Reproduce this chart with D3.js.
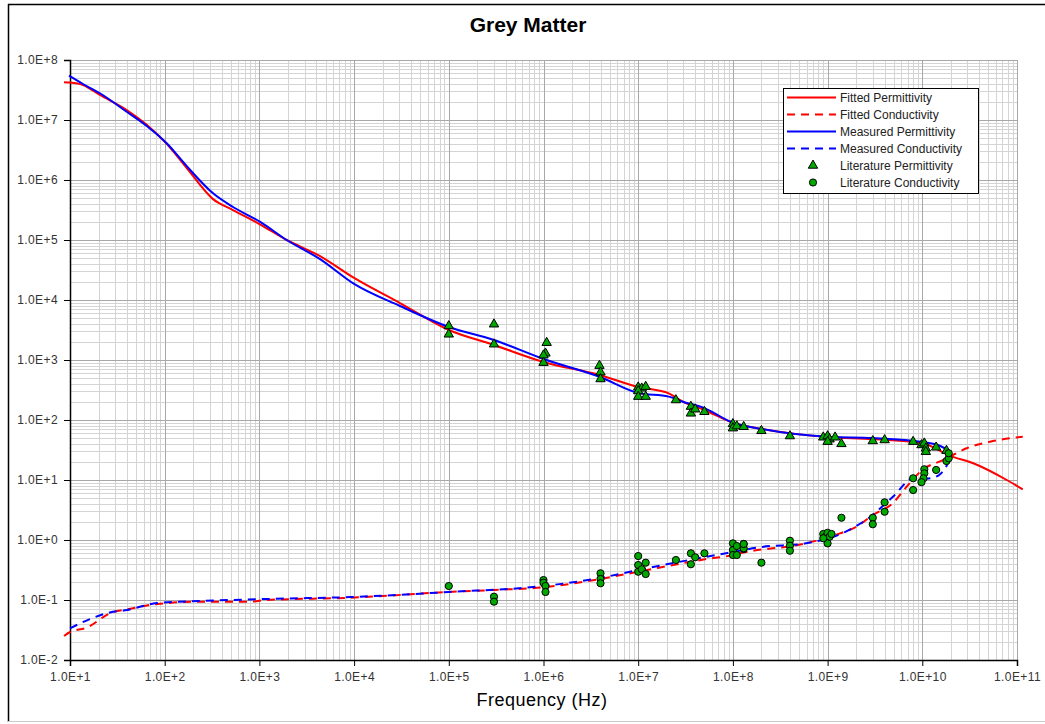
<!DOCTYPE html>
<html>
<head>
<meta charset="utf-8">
<script src="https://cdn.jsdelivr.net/npm/d3@7"></script>
<style>
  body { margin: 0; background: #fff; }
  text { font-family: "Liberation Sans", Arial, sans-serif; }
</style>
</head>
<body>
<svg id="chart" width="1045" height="724"></svg>
<script>
// ---- data ----
const xTickExps = [1, 2, 3, 4, 5, 6, 7, 8, 9, 10, 11];
const yTickExps = [-2, -1, 0, 1, 2, 3, 4, 5, 6, 7, 8];
const xTickLabels = xTickExps.map((e) => `1.0E+${e}`);
const yTickLabels = yTickExps.map((e) => (e < 0 ? `1.0E-${-e}` : `1.0E+${e}`));

// fitted permittivity (red solid)
const fitPermFreq = [8.65, 10, 13.7, 20.7, 39.7, 64.6, 105, 171, 324, 526, 1010, 1940, 4370, 1e4, 3.05e4, 1e5, 3e5, 1e6, 3.9e6, 1e7, 2.1e7, 2.96e7, 5e7, 1e8, 2e8, 1e9, 3e9, 1e10, 2e10, 3.45e10, 7.8e10, 1.15e11];
const fitPermVal = [4.25e7, 4.2e7, 3.83e7, 2.61e7, 1.47e7, 8.3e6, 4.0e6, 1.58e6, 4.8e5, 3.16e5, 1.83e5, 1e5, 5.4e4, 2.33e4, 8.9e3, 3160, 1780, 927, 562, 355, 278, 202, 147, 90, 71, 52, 48, 41, 25, 19, 10, 7.0];

// fitted conductivity (red dashed)
const fitCondFreq = [8.65, 10, 15, 26.4, 46.2, 83, 236, 794, 1200, 9060, 1e5, 3e5, 1e6, 3.95e6, 1e7, 5.07e7, 1e8, 1.18e8, 5.9e8, 1.35e9, 2.03e9, 3e9, 4.9e9, 6.84e9, 1e10, 1.65e10, 2.1e10, 2.93e10, 5.2e10, 1.15e11];
const fitCondVal = [0.0251, 0.0293, 0.0345, 0.06, 0.0727, 0.0858, 0.0937, 0.0937, 0.1, 0.109, 0.136, 0.147, 0.163, 0.224, 0.296, 0.477, 0.562, 0.6, 0.88, 1.29, 1.67, 2.61, 4.14, 7.73, 14.7, 21.5, 26.1, 33.8, 43.5, 52.7];

// measured permittivity (blue solid)
const measPermFreq = [9.76, 13.7, 20.7, 39.7, 64.6, 105, 171, 324, 526, 1010, 1940, 4370, 1e4, 3.05e4, 1e5, 3e5, 1e6, 3.9e6, 1e7, 2.1e7, 2.96e7, 5e7, 1e8, 2e8, 1e9, 3e9, 1e10, 1.55e10, 2e10];
const measPermVal = [5.47e7, 3.98e7, 2.79e7, 1.37e7, 7.94e6, 4.09e6, 1.7e6, 6e5, 3.55e5, 2.02e5, 1e5, 4.8e4, 1.85e4, 7.94e3, 3550, 2150, 1040, 525, 282, 245, 202, 158, 90, 71, 52.5, 50, 43, 36.9, 29.3];

// measured conductivity (blue dashed)
const measCondFreq = [10, 16.3, 26.4, 40, 83, 236, 1200, 9060, 1e5, 1e6, 3.95e6, 1e7, 5.07e7, 1e8, 2e8, 5.9e8, 1.54e9, 2.8e9, 4.9e9, 8.16e9, 1e10, 1.25e10, 1.55e10, 1.8e10, 2e10];
const measCondVal = [0.0337, 0.0482, 0.062, 0.068, 0.089, 0.096, 0.104, 0.112, 0.136, 0.171, 0.233, 0.316, 0.52, 0.63, 0.764, 0.88, 1.37, 2.42, 5.27, 10.8, 10.4, 10.8, 12.6, 17.1, 26.1];

// literature permittivity (triangles)
const litPermFreq = [1e5, 1e5, 3e5, 3e5, 1.08e6, 1.05e6, 1e6, 1e6, 3.9e6, 4e6, 4e6, 1e7, 1.09e7, 1.2e7, 1e7, 1e7, 1.2e7, 2.5e7, 3.6e7, 3.6e7, 4e7, 5e7, 1e8, 1e8, 1.1e8, 1.3e8, 2e8, 4e8, 9e8, 1e9, 1.05e9, 1.2e9, 1e9, 1.4e9, 3e9, 4e9, 8e9, 9.8e9, 1.05e10, 1.09e10, 1.09e10, 1.4e10, 1.8e10];
const litPermVal = [3690, 2680, 3940, 1830, 1940, 1290, 1200, 902, 804, 624, 482, 351, 337, 359, 304, 245, 245, 215, 167, 129, 151, 137, 86, 73, 79, 77, 66, 54, 51.5, 54, 47.7, 51.5, 43.5, 40, 44.7, 46.4, 43.5, 38.3, 40.9, 33.8, 29.6, 35, 30.8];

// literature conductivity (circles)
const litCondFreq = [1e5, 3e5, 3e5, 1e6, 1e6, 1.05e6, 1.05e6, 4e6, 4e6, 4e6, 1e7, 1e7, 1e7, 1.09e7, 1.2e7, 1.2e7, 2.5e7, 3.6e7, 3.6e7, 4e7, 5e7, 1e8, 1e8, 1e8, 1.1e8, 1.1e8, 1.3e8, 1.3e8, 1.3e8, 1.3e8, 2e8, 4e8, 4e8, 4e8, 9e8, 9.5e8, 1e9, 1e9, 1.05e9, 1.1e9, 9e8, 1.4e9, 3e9, 3e9, 4e9, 4e9, 8e9, 8e9, 1.05e10, 1.05e10, 1.03e10, 9.8e9, 1.4e10, 1.8e10, 1.9e10, 1.9e10];
const litCondVal = [0.171, 0.1135, 0.0937, 0.215, 0.194, 0.171, 0.136, 0.279, 0.224, 0.19, 0.54, 0.383, 0.296, 0.325, 0.419, 0.271, 0.464, 0.6, 0.394, 0.515, 0.6, 0.88, 0.68, 0.562, 0.794, 0.562, 0.858, 0.708, 0.727, 0.858, 0.419, 0.973, 0.804, 0.663, 1.26, 1.135, 1.32, 0.88, 1.135, 1.26, 1.07, 2.35, 2.35, 1.83, 4.25, 2.96, 10.7, 6.8, 15.1, 12.9, 10.7, 9.2, 14.7, 20.7, 23, 27.9];

const legendItems = [
  { label: "Fitted Permittivity", kind: "line", color: "#ff0000", dash: null },
  { label: "Fitted Conductivity", kind: "line", color: "#ff0000", dash: "8,6" },
  { label: "Measured Permittivity", kind: "line", color: "#0000ff", dash: null },
  { label: "Measured Conductivity", kind: "line", color: "#0000ff", dash: "8,6" },
  { label: "Literature Permittivity", kind: "tri" },
  { label: "Literature Conductivity", kind: "circ" },
];

// ---- layout ----
const W = 1045, H = 724;
const margin = { left: 70, right: 1017, top: 60, bottom: 660 };
const svg = d3.select("#chart");

svg.append("rect").attr("width", W).attr("height", H).attr("fill", "#fff");
// outer frame
svg.append("line").attr("x1", 8).attr("x2", W).attr("y1", 4.5).attr("y2", 4.5).attr("stroke", "#000").attr("stroke-width", 1.5);
svg.append("line").attr("x1", 8.5).attr("x2", 8.5).attr("y1", 4).attr("y2", 722).attr("stroke", "#000").attr("stroke-width", 1.5);
svg.append("line").attr("x1", 8).attr("x2", W).attr("y1", 721.5).attr("y2", 721.5).attr("stroke", "#ccc");

const x = d3.scaleLog().domain([10, 1e11]).range([margin.left, margin.right]);
const y = d3.scaleLog().domain([1e-2, 1e8]).range([margin.bottom, margin.top]);

// ---- grid ----
const grid = svg.append("g");
const minorX = [], minorY = [];
xTickExps.slice(0, -1).forEach((e) => { for (let k = 2; k <= 9; k++) minorX.push(k * 10 ** e); });
yTickExps.slice(0, -1).forEach((e) => { for (let k = 2; k <= 9; k++) minorY.push(k * 10 ** e); });

grid.selectAll(".mx").data(minorX).join("line")
  .attr("x1", (d) => Math.round(x(d)) + 0.5).attr("x2", (d) => Math.round(x(d)) + 0.5)
  .attr("y1", margin.top).attr("y2", margin.bottom)
  .attr("stroke", "#d4d4d4");
grid.selectAll(".my").data(minorY).join("line")
  .attr("y1", (d) => Math.round(y(d)) + 0.5).attr("y2", (d) => Math.round(y(d)) + 0.5)
  .attr("x1", margin.left).attr("x2", margin.right)
  .attr("stroke", "#d4d4d4");
grid.selectAll(".Mx").data(xTickExps).join("line")
  .attr("x1", (d) => Math.round(x(10 ** d)) + 0.5).attr("x2", (d) => Math.round(x(10 ** d)) + 0.5)
  .attr("y1", margin.top).attr("y2", margin.bottom)
  .attr("stroke", "#a8a8a8");
grid.selectAll(".My").data(yTickExps).join("line")
  .attr("y1", (d) => Math.round(y(10 ** d)) + 0.5).attr("y2", (d) => Math.round(y(10 ** d)) + 0.5)
  .attr("x1", margin.left).attr("x2", margin.right)
  .attr("stroke", "#a8a8a8");

// ---- axes ----
const xAxis = d3.axisBottom(x)
  .tickValues(xTickExps.map((e) => 10 ** e))
  .tickFormat((d, i) => xTickLabels[i])
  .tickSizeOuter(0).tickSize(6).tickPadding(6);
const yAxis = d3.axisLeft(y)
  .tickValues(yTickExps.map((e) => 10 ** e))
  .tickFormat((d, i) => yTickLabels[i])
  .tickSizeOuter(0).tickSize(6).tickPadding(6);

const gx = svg.append("g").attr("transform", `translate(0,${margin.bottom})`).call(xAxis);
const gy = svg.append("g").attr("transform", `translate(${margin.left},0)`).call(yAxis);
[gx, gy].forEach((g) => {
  g.select(".domain").attr("stroke", "#000").attr("stroke-width", 1.5);
  g.selectAll(".tick line").attr("stroke", "#000");
  g.selectAll(".tick text")
    .attr("fill", "#333")
    .style("font-size", "12px")
    .style("letter-spacing", "0.4px")
    .style("font-family", '"Liberation Sans", Arial, sans-serif');
});

// ---- curves ----
const line = d3.line().x((d) => x(d[0])).y((d) => y(d[1])).curve(d3.curveMonotoneX);
const curves = [
  { f: fitPermFreq, v: fitPermVal, color: "#ff0000", dash: null },
  { f: fitCondFreq, v: fitCondVal, color: "#ff0000", dash: "8,6" },
  { f: measPermFreq, v: measPermVal, color: "#0000ff", dash: null },
  { f: measCondFreq, v: measCondVal, color: "#0000ff", dash: "8,6" },
];
svg.append("g").selectAll("path").data(curves).join("path")
  .attr("d", (c) => line(c.f.map((f, i) => [f, c.v[i]])))
  .attr("fill", "none")
  .attr("stroke", (c) => c.color)
  .attr("stroke-width", 2)
  .attr("stroke-dasharray", (c) => c.dash);

// ---- literature points ----
const triPath = d3.symbol().type(d3.symbolTriangle).size(38)();
svg.append("g").selectAll("path")
  .data(litPermFreq.map((f, i) => [f, litPermVal[i]]))
  .join("path")
  .attr("d", triPath)
  .attr("transform", (d) => `translate(${x(d[0])},${y(d[1])})`)
  .attr("fill", "#00a800")
  .attr("stroke", "#000")
  .attr("stroke-width", 1);
svg.append("g").selectAll("circle")
  .data(litCondFreq.map((f, i) => [f, litCondVal[i]]))
  .join("circle")
  .attr("cx", (d) => x(d[0]))
  .attr("cy", (d) => y(d[1]))
  .attr("r", 3.6)
  .attr("fill", "#00a800")
  .attr("stroke", "#000")
  .attr("stroke-width", 1);

// ---- title & axis label ----
svg.append("text")
  .attr("x", 528).attr("y", 32)
  .attr("text-anchor", "middle")
  .style("font-size", "21px").style("font-weight", "bold")
  .text("Grey Matter");
svg.append("text")
  .attr("x", 542).attr("y", 706)
  .attr("text-anchor", "middle")
  .style("font-size", "18px").style("letter-spacing", "0.5px")
  .text("Frequency (Hz)");

// ---- legend ----
const lg = svg.append("g").attr("transform", "translate(783,88)");
lg.append("rect").attr("x", 0.5).attr("y", 0.5).attr("width", 195).attr("height", 105)
  .attr("fill", "#fff").attr("stroke", "#000");
const rows = lg.selectAll(".row").data(legendItems).join("g")
  .attr("transform", (d, i) => `translate(0,${9.5 + i * 17})`);
rows.filter((d) => d.kind === "line").append("line")
  .attr("x1", 4).attr("x2", 53).attr("y1", 0).attr("y2", 0)
  .attr("stroke", (d) => d.color).attr("stroke-width", 2)
  .attr("stroke-dasharray", (d) => d.dash);
rows.filter((d) => d.kind === "tri").append("path")
  .attr("d", triPath).attr("transform", "translate(30,0)")
  .attr("fill", "#00a800").attr("stroke", "#000");
rows.filter((d) => d.kind === "circ").append("circle")
  .attr("cx", 30).attr("cy", 0).attr("r", 3.6)
  .attr("fill", "#00a800").attr("stroke", "#000");
rows.append("text")
  .attr("x", 57).attr("y", 4)
  .attr("fill", "#222")
  .style("font-size", "12px")
  .text((d) => d.label);
</script>
</body>
</html>
